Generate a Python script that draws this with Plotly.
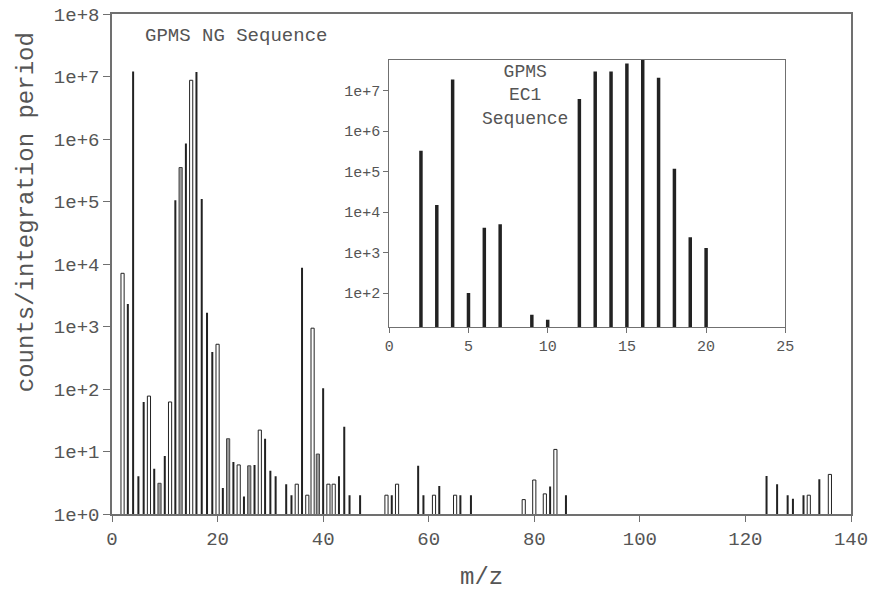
import plotly.graph_objects as go

# ---- main spectrum (GPMS NG Sequence) ----
black_mz = [3, 4, 5, 6, 8, 10, 12, 14, 16, 17, 18, 19, 21, 23, 25, 27, 29, 30, 31,
            33, 34, 36, 40, 43, 44, 45, 47, 53, 58, 59, 62, 66, 68, 83, 86,
            124, 126, 128, 129, 131, 134]
black_val = [2300, 1.2e7, 4.0, 62, 5.3, 8.5, 1.05e5, 8.5e5, 1.18e7, 1.1e5, 1660, 390, 2.6, 6.8,
             1.9, 6.1, 16, 4.9, 4.0, 3.0, 2.0, 8700, 103, 4.0, 25, 2.0, 2.0, 2.0, 5.9,
             2.0, 2.8, 2.0, 2.0, 2.76, 2.0, 4.05, 3.0, 2.0, 1.76, 2.0, 3.6]
white_mz = [2, 7, 11, 15, 20, 24, 28, 35, 37, 38, 41, 42, 52, 54, 61, 65, 78, 80, 82, 84, 132, 136]
white_val = [7100, 77, 62, 8.7e6, 520, 6.1, 22, 3.0, 2.0, 940, 3.0, 3.0, 2.0, 3.0, 2.0, 2.0,
             1.7, 3.5, 2.1, 10.8, 2.0, 4.3]
gray_mz = [9, 13, 22, 26, 39]
gray_val = [3.1, 3.5e5, 16, 5.9, 9.1]

# ---- inset spectrum (GPMS EC1 Sequence) ----
inset_mz = [2, 3, 4, 5, 6, 7, 9, 10, 12, 13, 14, 15, 16, 17, 18, 19, 20]
inset_val = [3.3e5, 1.5e4, 1.9e7, 100, 4100, 5000, 29, 22, 6.2e6, 3.0e7, 3.0e7, 4.7e7,
             5.7e7, 2.1e7, 1.17e5, 2400, 1300]

main_ytick_vals = [1, 10, 100, 1e3, 1e4, 1e5, 1e6, 1e7, 1e8]
main_ytick_text = ["1e+0", "1e+1", "1e+2", "1e+3", "1e+4", "1e+5", "1e+6", "1e+7", "1e+8"]
main_xticks = [0, 20, 40, 60, 80, 100, 120, 140]
inset_ytick_vals = [1e2, 1e3, 1e4, 1e5, 1e6, 1e7]
inset_ytick_text = ["1e+2", "1e+3", "1e+4", "1e+5", "1e+6", "1e+7"]
inset_xticks = [0, 5, 10, 15, 20, 25]

FONT = "Liberation Mono"
TXT = "#555555"
AX = "#707070"

fig = go.Figure()
fig.add_trace(go.Bar(x=black_mz, y=black_val, width=0.38,
                     marker=dict(color="#222222", line=dict(width=0)),
                     xaxis="x", yaxis="y", showlegend=False))
fig.add_trace(go.Bar(x=white_mz, y=white_val, width=0.6,
                     marker=dict(color="white", line=dict(color="#222222", width=1)),
                     xaxis="x", yaxis="y", showlegend=False))
fig.add_trace(go.Bar(x=gray_mz, y=gray_val, width=0.6,
                     marker=dict(color="#999999", line=dict(color="#444444", width=1)),
                     xaxis="x", yaxis="y", showlegend=False))
fig.add_trace(go.Bar(x=inset_mz, y=inset_val, width=0.22,
                     marker=dict(color="#222222", line=dict(width=0)),
                     xaxis="x2", yaxis="y2", showlegend=False))

fig.update_layout(
    width=872, height=592,
    margin=dict(l=112, r=21, t=14, b=78, autoexpand=False),
    paper_bgcolor="white", plot_bgcolor="white",
    font=dict(family=FONT, color=TXT, size=19),
    barmode="overlay",
    xaxis=dict(domain=[0, 1], range=[0, 140], tickvals=main_xticks, automargin=False,
               ticks="outside", ticklen=6, tickcolor=AX, showline=True, linecolor=AX,
               linewidth=1.5, mirror=True, showgrid=False, zeroline=False,
               tickfont=dict(size=19, family=FONT, color=TXT)),
    yaxis=dict(domain=[0, 1], type="log", range=[0, 8], tickvals=main_ytick_vals,
               ticktext=main_ytick_text, ticks="outside", ticklen=7, tickcolor=AX,
               showline=True, linecolor=AX, linewidth=1.5, mirror=True, showgrid=False,
               zeroline=False, automargin=False,
               tickfont=dict(size=19, family=FONT, color=TXT)),
    xaxis2=dict(domain=[0.3752, 0.9111], anchor="y2", range=[0, 25], tickvals=inset_xticks,
                ticks="outside", ticklen=5, tickcolor=AX, showline=True, linecolor=AX,
                linewidth=1.2, mirror=True, showgrid=False, zeroline=False, automargin=False,
                tickfont=dict(size=15, family=FONT, color=TXT)),
    yaxis2=dict(domain=[0.3734, 0.9085], anchor="x2", type="log", range=[1.153, 7.765],
                tickvals=inset_ytick_vals, ticktext=inset_ytick_text, ticks="outside",
                ticklen=5, tickcolor=AX, showline=True, linecolor=AX, linewidth=1.2,
                mirror=True, showgrid=False, zeroline=False, automargin=False,
                tickfont=dict(size=15, family=FONT, color=TXT)),
    annotations=[
        dict(text="counts/integration period", textangle=-90, xref="paper", yref="paper",
             x=-0.1164, y=0.6036, xanchor="center", yanchor="middle", showarrow=False,
             font=dict(size=24, family=FONT, color=TXT)),
        dict(text="m/z", xref="paper", yref="paper", x=0.5, y=-0.127,
             xanchor="center", yanchor="middle", showarrow=False,
             font=dict(size=24, family=FONT, color=TXT)),
        dict(text="GPMS NG Sequence", xref="paper", yref="paper", x=0.0419, y=0.9559,
             xanchor="left", yanchor="middle", showarrow=False,
             font=dict(size=19, family=FONT, color=TXT)),
        dict(text="GPMS<br>EC1<br>Sequence", xref="paper", yref="paper", x=0.5589, y=0.8377,
             xanchor="center", yanchor="middle", showarrow=False, align="center",
             font=dict(size=18, family=FONT, color=TXT)),
    ],
)

fig.write_html(
    "out.html",
    config={"displayModeBar": False},
    post_script="document.body.style.margin='0';document.body.style.overflow='hidden';",
)
